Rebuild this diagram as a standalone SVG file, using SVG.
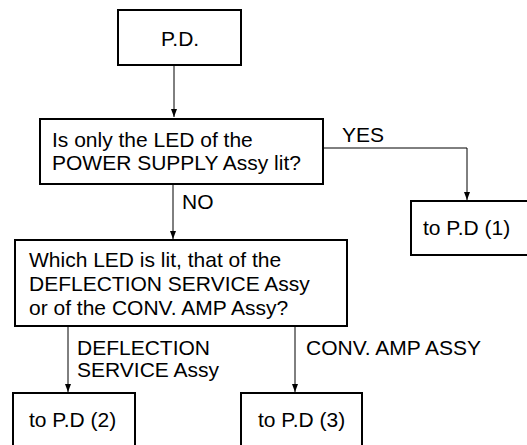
<svg xmlns="http://www.w3.org/2000/svg" width="527" height="445" viewBox="0 0 527 445">
<style>
.box{fill:#fff;stroke:#000;stroke-width:2}
.t{font-family:"Liberation Sans",Arial,sans-serif;font-size:21px;fill:#000}
.c{fill:none;stroke:#000;stroke-width:1}
</style>
<defs>
<marker id="ah" markerUnits="userSpaceOnUse" markerWidth="8" markerHeight="12" refX="8" refY="3" orient="auto" viewBox="0 0 8 6">
<path d="M0,0 L8,3 L0,6 Z" fill="#000"/>
</marker>
</defs>
<rect width="527" height="445" fill="#fff"/>
<g id="connectors">
<path class="c" d="M174,65 V117" marker-end="url(#ah)"/>
<path class="c" d="M323,148 H467 V200" marker-end="url(#ah)"/>
<path class="c" d="M173,184 V239" marker-end="url(#ah)"/>
<path class="c" d="M68,326 V392" marker-end="url(#ah)"/>
<path class="c" d="M295,326 V392" marker-end="url(#ah)"/>
<text class="t" x="342" y="142">YES</text>
<text class="t" x="182" y="209">NO</text>
<text class="t" x="77" y="355">DEFLECTION</text>
<text class="t" x="77" y="377">SERVICE Assy</text>
<text class="t" x="306" y="355">CONV. AMP ASSY</text>
</g>
<g id="start">
<rect class="box" x="118" y="10" width="123" height="55"/>
<text class="t" x="161" y="46">P.D.</text>
</g>
<g id="q1">
<rect class="box" x="40" y="119" width="283" height="65"/>
<text class="t" x="52" y="146.5">Is only the LED of the</text>
<text class="t" x="52" y="169.5">POWER SUPPLY Assy lit?</text>
</g>
<g id="pd1">
<rect class="box" x="411" y="201" width="130" height="54"/>
<text class="t" x="423" y="235">to P.D (1)</text>
</g>
<g id="q2">
<rect class="box" x="15" y="240" width="332" height="86"/>
<text class="t" x="29" y="267">Which LED is lit, that of the</text>
<text class="t" x="29" y="291">DEFLECTION SERVICE Assy</text>
<text class="t" x="29" y="315">or of the CONV. AMP Assy?</text>
</g>
<g id="pd2">
<rect class="box" x="13" y="393" width="122" height="70"/>
<text class="t" x="29" y="427">to P.D (2)</text>
</g>
<g id="pd3">
<rect class="box" x="241" y="393" width="121" height="70"/>
<text class="t" x="258" y="427">to P.D (3)</text>
</g>
</svg>
